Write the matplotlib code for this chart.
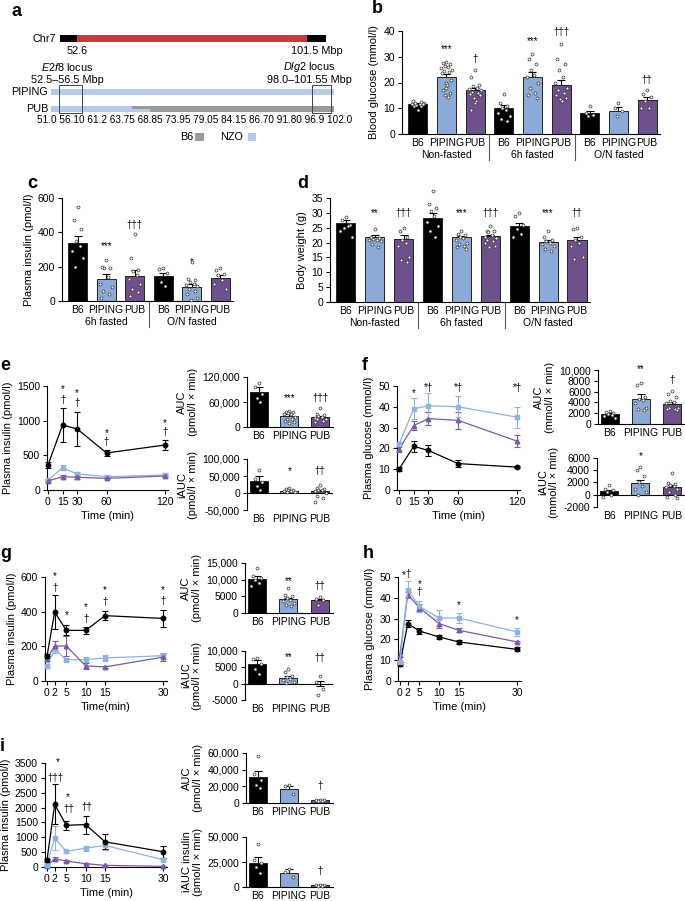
import numpy as np
import matplotlib.pyplot as plt
import matplotlib.transforms as mtransforms
from matplotlib.patches import Rectangle

plt.rcParams['font.family'] = ['Liberation Sans', 'DejaVu Sans']
plt.rcParams['mathtext.fontset'] = 'custom'
plt.rcParams['mathtext.it'] = 'Liberation Sans:italic'
plt.rcParams['mathtext.rm'] = 'Liberation Sans'
plt.rcParams['axes.linewidth'] = 0.8
plt.rcParams['xtick.major.width'] = 0.8
plt.rcParams['ytick.major.width'] = 0.8
plt.rcParams['xtick.major.size'] = 3
plt.rcParams['ytick.major.size'] = 3
plt.rcParams['xtick.major.pad'] = 2
plt.rcParams['ytick.major.pad'] = 2

W, H = 685, 901

# colours
B6_COL = 'black'
PIP_COL = '#8caad7'
PUB_COL = '#6e508c'
PIP_LINE = '#8fb2e3'
PUB_LINE = '#7b5c9f'
NZO_COL = '#b3cbe8'
GREY_COL = '#9a9a9a'
CHR_RED = '#c8383c'

# ---------------- data ----------------
# a: congenic map (Mbp)
chr7_region = (52.6, 101.5)
chr7_view = (49.0, 105.5)
piping_nzo = (51.0, 102.0)
pub_nzo = (51.0, 68.85)
pub_b6 = (65.6, 102.0)
e2f8_locus = (52.5, 56.5)
dlg2_locus = (98.0, 101.55)
a_ticklabels = ['51.0', '56.10', '61.2', '63.75', '68.85', '73.95', '79.05',
                '84.15', '86.70', '91.80', '96.9', '102.0']

strains = ['B6', 'PIPING', 'PUB']

# b: blood glucose
b_groups = ['Non-fasted', '6h fasted', 'O/N fasted']
b_means = [11.7, 22.3, 17.0, 10.1, 22.3, 19.0, 8.1, 9.0, 13.2]
b_errs = [0.4, 1.0, 1.0, 1.1, 1.6, 1.8, 0.8, 1.4, 1.1]
b_pts = [[9.5, 10.8, 11.0, 11.3, 11.6, 11.8, 12.0, 12.2, 12.5, 12.8, 11.5],
         [28.0, 27.5, 27.0, 26.5, 26.0, 25.5, 25.0, 24.5, 24.0, 23.5, 21.0, 20.0, 19.0, 18.0, 17.0, 16.0, 15.0, 14.5],
         [25.0, 22.0, 19.0, 18.5, 18.0, 17.5, 17.0, 16.5, 16.0, 15.5, 15.0, 14.0, 13.0, 12.0, 9.5],
         [15.5, 12.0, 11.0, 10.0, 9.5, 8.0, 7.0, 6.0, 5.0],
         [31.0, 29.0, 27.0, 25.0, 23.0, 22.0, 20.0, 18.0, 16.0, 15.0, 14.0],
         [35.0, 29.0, 27.0, 25.0, 22.0, 20.0, 18.0, 17.0, 16.0, 15.0, 14.0, 13.5, 13.0],
         [11.0, 8.0, 7.5, 7.0],
         [12.0, 10.0, 9.0, 7.0],
         [17.0, 15.5, 14.5, 13.0, 10.0, 10.0]]
b_notes = [(1, 33, '***'), (2, 29, '†'), (4, 36, '***'), (5, 39.6, '†††'), (8, 21, '††')]

# c: plasma insulin
c_groups = ['6h fasted', 'O/N fasted']
c_means = [340, 128, 146, 146, 82, 134]
c_errs = [40, 28, 35, 15, 15, 20]
c_pts = [[545, 470, 420, 350, 320, 290, 250, 200],
         [240, 200, 195, 190, 140, 100, 80, 60, 40, 20],
         [390, 250, 180, 175, 150, 130, 100, 70, 50, 30],
         [190, 185, 165, 110, 85],
         [230, 130, 120, 110, 100, 95, 85, 70, 60, 40, 20, 5],
         [190, 180, 160, 150, 120, 100, 70]]
c_notes = [(1, 320, '***'), (2, 443, '†††'), (4, 228, '*')]

# d: body weight
d_groups = ['Non-fasted', '6h fasted', 'O/N fasted']
d_means = [26.5, 22.0, 21.2, 28.3, 21.8, 22.2, 25.5, 20.2, 20.8]
d_errs = [1.0, 0.5, 1.3, 1.5, 0.5, 0.5, 1.0, 0.7, 1.2]
d_pts = [[28.5, 27.5, 26.0, 25.0, 25.5, 24.0, 22.0],
         [24.5, 22.0, 21.5, 21.3, 21.0, 20.8, 20.5, 19.5, 18.5],
         [25.0, 24.0, 22.0, 21.0, 20.0, 19.0, 15.0, 14.0, 13.5],
         [37.5, 33.0, 31.5, 30.5, 29.0, 27.0, 25.5, 24.0, 22.0],
         [24.0, 23.0, 22.5, 22.0, 21.5, 21.0, 20.0, 19.5, 19.0, 18.5, 18.0],
         [25.5, 24.0, 23.8, 23.5, 22.5, 22.0, 21.5, 21.0, 20.5, 20.0, 19.0, 18.5],
         [30.0, 29.0, 26.0, 24.5, 23.0, 22.0],
         [24.0, 22.0, 21.0, 20.5, 20.0, 19.5, 19.0, 18.0, 17.0],
         [25.0, 24.5, 22.0, 21.0, 20.0, 19.0, 15.0, 14.5]]
d_notes = [(1, 30, '**'), (2, 30, '†††'), (4, 30, '***'), (5, 30, '†††'), (7, 30, '***'), (8, 30, '††')]

# e: insulin during OGTT
e_t = [0, 15, 30, 60, 120]
e_b6 = [360, 938, 880, 534, 649]
e_b6_err = [45, 245, 245, 43, 72]
e_pip = [144, 322, 231, 192, 216]
e_pip_err = [20, 40, 30, 20, 25]
e_pub = [131, 192, 183, 168, 202]
e_pub_err = [20, 20, 20, 15, 20]
e_notes = [(15, 1457, '*'), (15, 1300, '†'), (30, 1400, '*'), (30, 1255, '†'),
           (60, 822, '*'), (60, 693, '†'), (120, 967, '*'), (120, 837, '†')]
e_auc = [85000, 27000, 23000]
e_auc_err = [12000, 4500, 4000]
e_auc_pts = [[105000, 95000, 80000, 70000, 60000],
             [38000, 36000, 35000, 33000, 32000, 30000, 25000, 20000, 18000, 15000, 12000, 10000],
             [45000, 30000, 28000, 27000, 25000, 22000, 20000, 18000, 15000, 12000]]
e_auc_notes = [(1, 70500, '***'), (2, 70500, '†††')]
e_iauc = [35000, 7000, 5000]
e_iauc_err = [14000, 3000, 3000]
e_iauc_pts = [[67000, 40000, 33000, 20000, 10000],
              [15000, 12000, 10000, 8000, 6000, 5000, 4000, 3000],
              [25000, 15000, 12000, 10000, 8000, 5000, 0, -8000, -15000, -25000]]
e_iauc_notes = [(1, 65000, '*'), (2, 65000, '††')]

# f: glucose during OGTT
f_t = [0, 15, 30, 60, 120]
f_b6 = [10.0, 21.0, 19.0, 12.7, 11.0]
f_b6_err = [1.0, 2.5, 2.5, 1.5, 0.5]
f_pip = [22.0, 39.0, 40.5, 40.0, 35.0]
f_pip_err = [1.0, 5.0, 6.0, 5.0, 5.0]
f_pub = [19.5, 31.0, 34.3, 33.5, 23.5]
f_pub_err = [1.0, 2.0, 3.0, 4.0, 3.0]
f_notes = [(15, 46.8, '*'), (30, 49, '*†'), (60, 49, '*†'), (120, 49, '*†')]
f_auc = [1790, 4630, 3640]
f_auc_err = [300, 900, 500]
f_auc_pts = [[2500, 2200, 2000, 1800, 1600, 1400, 1200],
             [7600, 7300, 5000, 4700, 4500, 3800, 3000, 2800, 2600],
             [6200, 5600, 5000, 4300, 4100, 3800, 3000, 2900, 2800, 2700, 2600]]
f_auc_notes = [(1, 10100, '**'), (2, 8150, '†')]
f_iauc = [540, 1900, 1250]
f_iauc_err = [300, 550, 380]
f_iauc_pts = [[1600, 1000, 700, 400, 0, -400],
              [4500, 4000, 3000, 2000, 1500, 1000, 500, 0],
              [3600, 1900, 1700, 1600, 1500, 1300, 1000, 500, 0, -300, -600]]
f_iauc_notes = [(1, 6360, '*')]

# g: insulin during IVGTT
g_t = [0, 2, 5, 10, 15, 30]
g_b6 = [142, 398, 292, 292, 377, 361]
g_b6_err = [12, 96, 29, 19, 25, 51]
g_pip = [85, 183, 123, 123, 133, 146]
g_pip_err = [12, 20, 10, 15, 15, 15]
g_pub = [129, 202, 202, 87, 81, 138]
g_pub_err = [15, 30, 60, 15, 8, 20]
g_notes = [(2, 604, '*'), (2, 538, '†'), (5, 379, '*'), (10, 427, '*'), (10, 360, '†'),
           (15, 523, '*'), (15, 456, '†'), (30, 523, '*'), (30, 460, '†')]
g_auc = [10230, 4150, 3850]
g_auc_err = [1000, 500, 400]
g_auc_pts = [[13500, 11000, 10500, 10000, 9000, 8000],
             [7500, 5500, 5000, 4500, 4000, 3500, 3000, 2500, 2000],
             [4800, 4300, 4000, 2500]]
g_auc_notes = [(1, 9630, '**'), (2, 8100, '††')]
g_iauc = [6150, 1650, 0]
g_iauc_err = [1100, 550, 800]
g_iauc_pts = [[7800, 7500, 6000, 4500, 3000],
              [4500, 3500, 2500, 2000, 1500, 1000, 500, 300],
              [2500, 500, -1500, -3500]]
g_iauc_notes = [(1, 8000, '**'), (2, 8000, '††')]

# h: glucose during IVGTT
h_t = [0, 2, 5, 10, 15, 30]
h_b6 = [8.3, 27.6, 24.0, 21.2, 18.8, 15.2]
h_b6_err = [1.0, 1.5, 1.5, 1.0, 1.0, 1.0]
h_pip = [9.1, 43.9, 35.9, 30.3, 30.3, 23.6]
h_pip_err = [1.0, 4.0, 2.5, 4.0, 2.5, 2.0]
h_pub = [12.7, 41.5, 35.3, 27.6, 24.4, 18.8]
h_pub_err = [1.0, 1.5, 1.5, 2.0, 1.0, 0.5]
h_notes = [(1.0, 50.8, '*'), (2.2, 51.3, '†'), (5, 46.8, '*'), (5, 42.8, '†'),
           (15, 36.4, '*'), (30, 29.5, '*')]

# i: insulin during IVGTT (second cohort)
i_t = [0, 2, 5, 10, 15, 30]
i_b6 = [223, 2107, 1405, 1427, 847, 513]
i_b6_err = [50, 670, 145, 300, 257, 200]
i_pip = [78, 970, 524, 635, 725, 245]
i_pip_err = [20, 412, 60, 80, 150, 50]
i_pub = [22, 279, 200, 111, 56, 22]
i_pub_err = [10, 60, 40, 20, 10, 5]
i_notes = [(2.8, 3523, '*'), (2.2, 3010, '†††'), (5.3, 2341, '*'), (5.5, 1951, '††'), (10.2, 2007, '††')]
i_auc = [31200, 17200, 3200]
i_auc_err = [6800, 3600, 500]
i_auc_pts = [[56000, 35000, 28000, 22000, 18000],
             [22000, 21000, 11000],
             [4000, 3500, 3200, 3000, 2500]]
i_auc_notes = [(2, 20800, '†')]
i_iauc = [24300, 14000, 1700]
i_iauc_err = [5700, 4300, 300]
i_iauc_pts = [[43000, 27000, 24000, 20000, 14000],
              [18000, 15000, 10000],
              [2500, 2000, 1700, 1500, 1000]]
i_iauc_notes = [(2, 16000, '†')]

# ---------------- helpers ----------------
fig = plt.figure(figsize=(W / 100, H / 100), dpi=100)


def px_axes(x0, y0, x1, y1):
    return fig.add_axes([x0 / W, 1 - y1 / H, (x1 - x0) / W, (y1 - y0) / H])


def clean(ax):
    ax.spines['top'].set_visible(False)
    ax.spines['right'].set_visible(False)


JIT = np.array([0, -0.13, 0.13, -0.065, 0.065, -0.2, 0.2, -0.1, 0.1, -0.17, 0.17, -0.03, 0.03])


def add_points(ax, x, pts, spread=1.0):
    for xi, p in zip(x, pts):
        off = np.resize(JIT, len(p)) * spread
        ax.scatter(xi + off, p, s=4.5, facecolor='white', edgecolor='#333333',
                   linewidth=0.5, zorder=4, clip_on=False)


def grouped_bar_panel(ax, means, errs, pts, groups, ylim, yticks, ylabel, notes, fs=7.5):
    x = np.arange(len(means))
    cols = [B6_COL, PIP_COL, PUB_COL] * len(groups)
    ax.bar(x, means, width=0.66, color=cols, edgecolor='#222222', linewidth=0.7, zorder=2)
    ax.errorbar(x, means, yerr=errs, fmt='none', ecolor='black', elinewidth=0.8,
                capsize=3, capthick=0.8, zorder=1.5)
    add_points(ax, x, pts)
    ax.set_xlim(-0.55, len(means) - 0.55)
    ax.set_ylim(*ylim)
    ax.set_yticks(yticks)
    ax.set_xticks(x)
    ax.set_xticklabels(strains * len(groups), fontsize=fs)
    ax.tick_params(axis='x', length=0, pad=3)
    ax.tick_params(axis='y', labelsize=fs)
    ax.set_ylabel(ylabel, fontsize=fs + 0.5, labelpad=3)
    clean(ax)
    trans = mtransforms.blended_transform_factory(ax.transData, ax.transAxes)
    for gi, g in enumerate(groups):
        ax.text(3 * gi + 1, -0.205, g, transform=trans, ha='center', va='center', fontsize=fs)
        if gi > 0:
            ax.plot([3 * gi - 0.5] * 2, [0, -0.25], transform=trans, color='#555555',
                    lw=0.8, clip_on=False)
    for xi, yi, s in notes:
        ax.text(xi, yi, s, ha='center', va='center', fontsize=fs - 0.5)


def line_panel(ax, t, series, ylim, yticks, xlim, xlabel, ylabel, notes, fs=7.5):
    for m, e, col, mk in series:
        ax.errorbar(t, m, yerr=e, color=col, marker=mk, ms=3.2, lw=0.9, elinewidth=0.8,
                    capsize=2, capthick=0.8, mec=col, clip_on=False, zorder=3)
    ax.set_ylim(*ylim)
    ax.set_yticks(yticks)
    ax.set_xlim(*xlim)
    ax.set_xticks(t)
    ax.tick_params(labelsize=fs)
    ax.set_xlabel(xlabel, fontsize=fs + 0.5, labelpad=3)
    ax.set_ylabel(ylabel, fontsize=fs + 0.5, labelpad=3)
    clean(ax)
    for xi, yi, s in notes:
        ax.text(xi, yi, s, ha='center', va='center', fontsize=fs - 0.5)


def auc_panel(ax, means, errs, pts, ylim, yticks, yticklabels, ylabel, notes,
              zero_line=False, fs=7.5):
    x = np.arange(3)
    ax.bar(x, means, width=0.58, color=[B6_COL, PIP_COL, PUB_COL], edgecolor='#222222',
           linewidth=0.7, zorder=2)
    ax.errorbar(x, means, yerr=errs, fmt='none', ecolor='black', elinewidth=0.8,
                capsize=3, capthick=0.8, zorder=1.5)
    add_points(ax, x, pts, spread=0.9)
    ax.set_xlim(-0.38, 2.42)
    ax.set_ylim(*ylim)
    ax.set_yticks(yticks)
    ax.set_yticklabels(yticklabels)
    ax.set_xticks(x)
    ax.set_xticklabels(strains)
    ax.tick_params(axis='x', length=0, pad=3)
    ax.tick_params(labelsize=fs)
    ax.set_ylabel(ylabel, fontsize=fs + 0.5, labelpad=3, linespacing=1.1)
    clean(ax)
    if zero_line:
        ax.spines['bottom'].set_visible(False)
        ax.axhline(0, color='black', lw=0.8, zorder=3)
    for xi, yi, s in notes:
        ax.text(xi, yi, s, ha='center', va='center', fontsize=fs - 0.5)


def panel_label(x, y, s):
    fig.text(x / W, 1 - y / H, s, fontsize=13, fontweight='bold', va='top', ha='left')


# ---------------- panel a ----------------
ax_a = px_axes(0, 0, 340, 165)
ax_a.set_xlim(41.8, 103.1)
ax_a.set_ylim(165, 0)
ax_a.axis('off')

ax_chr = px_axes(60, 35, 326, 42)
ax_chr.set_xlim(*chr7_view)
ax_chr.set_ylim(-0.5, 0.5)
ax_chr.axis('off')
ax_chr.barh(0, chr7_view[1] - chr7_view[0], left=chr7_view[0], height=1, color='black')
ax_chr.barh(0, chr7_region[1] - chr7_region[0], left=chr7_region[0], height=1, color=CHR_RED)
ax_chr.annotate('Chr7', xy=(chr7_view[0], 0), xytext=(-3, 0), textcoords='offset points',
                ha='right', va='center', fontsize=7.8, annotation_clip=False)
ax_chr.annotate(f'{chr7_region[0]}', xy=(chr7_region[0], -0.5), xytext=(0, -3),
                textcoords='offset points', ha='center', va='top', fontsize=7.8, annotation_clip=False)
ax_chr.annotate(f'{chr7_region[1]} Mbp', xy=(chr7_region[1], -0.5), xytext=(7, -3),
                textcoords='offset points', ha='center', va='top', fontsize=7.8, annotation_clip=False)

# strain bars
ax_a.add_patch(Rectangle((piping_nzo[0], 89), piping_nzo[1] - piping_nzo[0], 6, color=NZO_COL, lw=0))
ax_a.add_patch(Rectangle((pub_b6[0], 106), pub_b6[1] - pub_b6[0], 6, color=GREY_COL, lw=0))
ax_a.add_patch(Rectangle((pub_nzo[0], 106), pub_b6[0] - pub_nzo[0], 6, color=NZO_COL, lw=0))
ax_a.add_patch(Rectangle((pub_b6[0], 109), pub_nzo[1] - pub_b6[0], 3, color=NZO_COL, lw=0))
ax_a.annotate('PIPING', xy=(piping_nzo[0], 92), xytext=(-2, 0), textcoords='offset points',
              ha='right', va='center', fontsize=7.8)
ax_a.annotate('PUB', xy=(pub_nzo[0], 109), xytext=(-2, 0), textcoords='offset points',
              ha='right', va='center', fontsize=7.8)

# loci boxes
for lo, hi in [e2f8_locus, dlg2_locus]:
    ax_a.add_patch(Rectangle((lo, 85), hi - lo, 28, fill=False, edgecolor='#444444', lw=0.7))
ax_a.text(54.0, 67, r'$\it{E2f8}$ locus', ha='center', va='center', fontsize=7.8)
ax_a.text(54.0, 80, f'{e2f8_locus[0]}–{e2f8_locus[1]} Mbp', ha='center', va='center', fontsize=7.8)
ax_a.text(97.6, 67, r'$\it{Dlg2}$ locus', ha='center', va='center', fontsize=7.8)
ax_a.text(97.6, 80, f'{dlg2_locus[0]}–{dlg2_locus[1]} Mbp', ha='center', va='center', fontsize=7.8)

# position scale
ax_a.text(48.5, 120, ' '.join(a_ticklabels), ha='left', va='center', fontsize=7.2)

# legend
ax_a.text(75.5, 137, 'B6', ha='center', va='center', fontsize=7.8)
ax_a.add_patch(Rectangle((76.9, 133), 1.6, 8, color=GREY_COL, lw=0))
ax_a.text(83.6, 137, 'NZO', ha='center', va='center', fontsize=7.8)
ax_a.add_patch(Rectangle((86.5, 133), 1.5, 8, color=NZO_COL, lw=0))

# ---------------- panels b, c, d ----------------
ax_b = px_axes(402, 31, 660, 134)
grouped_bar_panel(ax_b, b_means, b_errs, b_pts, b_groups, (0, 40), [0, 10, 20, 30, 40],
                  'Blood glucose (mmol/l)', b_notes)

ax_c = px_axes(62, 198, 233, 301)
grouped_bar_panel(ax_c, c_means, c_errs, c_pts, c_groups, (0, 600), [0, 200, 400, 600],
                  'Plasma insulin (pmol/l)', c_notes)

ax_d = px_axes(330, 198, 590, 302)
grouped_bar_panel(ax_d, d_means, d_errs, d_pts, d_groups, (0, 35), [0, 5, 10, 15, 20, 25, 30, 35],
                  'Body weight (g)', d_notes)

# ---------------- panel e ----------------
ax_e = px_axes(47, 386, 168, 490)
line_panel(ax_e, e_t, [(e_pip, e_pip_err, PIP_LINE, 's'), (e_pub, e_pub_err, PUB_LINE, '^'),
                       (e_b6, e_b6_err, B6_COL, 'o')],
           (0, 1500), [0, 500, 1000, 1500], (-1, 123), 'Time (min)', 'Plasma insulin (pmol/l)', e_notes)
ax_e1 = px_axes(247, 377, 333, 427)
auc_panel(ax_e1, e_auc, e_auc_err, e_auc_pts, (0, 120000), [0, 60000, 120000],
          ['0', '60,000', '120,000'], 'AUC\n(pmol/l × min)', e_auc_notes)
ax_e2 = px_axes(247, 459, 333, 510)
auc_panel(ax_e2, e_iauc, e_iauc_err, e_iauc_pts, (-50000, 100000), [-50000, 0, 50000, 100000],
          ['-50,000', '0', '50,000', '100,000'], 'iAUC\n(pmol/l × min)', e_iauc_notes, zero_line=True)

# ---------------- panel f ----------------
ax_f = px_axes(397, 386, 520, 490)
line_panel(ax_f, f_t, [(f_b6, f_b6_err, B6_COL, 'o'), (f_pub, f_pub_err, PUB_LINE, '^'),
                       (f_pip, f_pip_err, PIP_LINE, 's')],
           (0, 50), [0, 10, 20, 30, 40, 50], (-2, 123), 'Time (min)', 'Plasma glucose (mmol/l)', f_notes)
ax_f1 = px_axes(598, 370, 685, 424)
auc_panel(ax_f1, f_auc, f_auc_err, f_auc_pts, (0, 10000), [0, 2000, 4000, 6000, 8000, 10000],
          ['0', '2000', '4000', '6000', '8000', '10,000'], 'AUC\n(mmol/l × min)', f_auc_notes)
ax_f2 = px_axes(597, 458, 685, 507)
auc_panel(ax_f2, f_iauc, f_iauc_err, f_iauc_pts, (-2000, 6000), [-2000, 0, 2000, 4000, 6000],
          ['-2000', '0', '2000', '4000', '6000'], 'iAUC\n(mmol/l × min)', f_iauc_notes, zero_line=True)

# ---------------- panel g ----------------
ax_g = px_axes(45, 577, 167, 681)
line_panel(ax_g, g_t, [(g_pip, g_pip_err, PIP_LINE, 's'), (g_pub, g_pub_err, PUB_LINE, '^'),
                       (g_b6, g_b6_err, B6_COL, 'o')],
           (0, 600), [0, 200, 400, 600], (-0.5, 31), 'Time(min)', 'Plasma insulin (pmol/l)', g_notes)
ax_g1 = px_axes(245, 563, 333, 613)
auc_panel(ax_g1, g_auc, g_auc_err, g_auc_pts, (0, 15000), [0, 5000, 10000, 15000],
          ['0', '5000', '10,000', '15,000'], 'AUC\n(pmol/l × min)', g_auc_notes)
ax_g2 = px_axes(245, 651, 333, 700)
auc_panel(ax_g2, g_iauc, g_iauc_err, g_iauc_pts, (-5000, 10000), [-5000, 0, 5000, 10000],
          ['-5000', '0', '5000', '10,000'], 'iAUC\n(pmol/l × min)', g_iauc_notes, zero_line=True)

# ---------------- panel h ----------------
ax_h = px_axes(398, 577, 521, 681)
line_panel(ax_h, h_t, [(h_b6, h_b6_err, B6_COL, 'o'), (h_pub, h_pub_err, PUB_LINE, '^'),
                       (h_pip, h_pip_err, PIP_LINE, 's')],
           (0, 50), [0, 10, 20, 30, 40, 50], (-0.5, 31), 'Time (min)', 'Plasma glucose (mmol/l)', h_notes)

# ---------------- panel i ----------------
ax_i = px_axes(45, 763, 167, 867)
line_panel(ax_i, i_t, [(i_pub, i_pub_err, PUB_LINE, '^'), (i_pip, i_pip_err, PIP_LINE, 's'),
                       (i_b6, i_b6_err, B6_COL, 'o')],
           (0, 3500), [0, 500, 1000, 1500, 2000, 2500, 3000, 3500], (-0.5, 31), 'Time (min)',
           'Plasma insulin (pmol/l)', i_notes)
ax_i1 = px_axes(246, 753, 333, 803)
auc_panel(ax_i1, i_auc, i_auc_err, i_auc_pts, (0, 60000), [0, 20000, 40000, 60000],
          ['0', '20,000', '40,000', '60,000'], 'AUC\n(pmol/l × min)', i_auc_notes)
ax_i2 = px_axes(246, 837, 333, 887)
auc_panel(ax_i2, i_iauc, i_iauc_err, i_iauc_pts, (0, 50000), [0, 25000, 50000],
          ['0', '25,000', '50,000'], 'iAUC insulin\n(pmol/l × min)', i_iauc_notes)

# panel letters
for lx, ly, s in [(11, 3, 'a'), (372, 0, 'b'), (27, 175, 'c'), (297, 175, 'd'), (0, 357, 'e'),
                  (362, 357, 'f'), (0, 545, 'g'), (363, 545, 'h'), (0, 738, 'i')]:
    panel_label(lx, ly, s)

fig.savefig('out.png', dpi=100)
